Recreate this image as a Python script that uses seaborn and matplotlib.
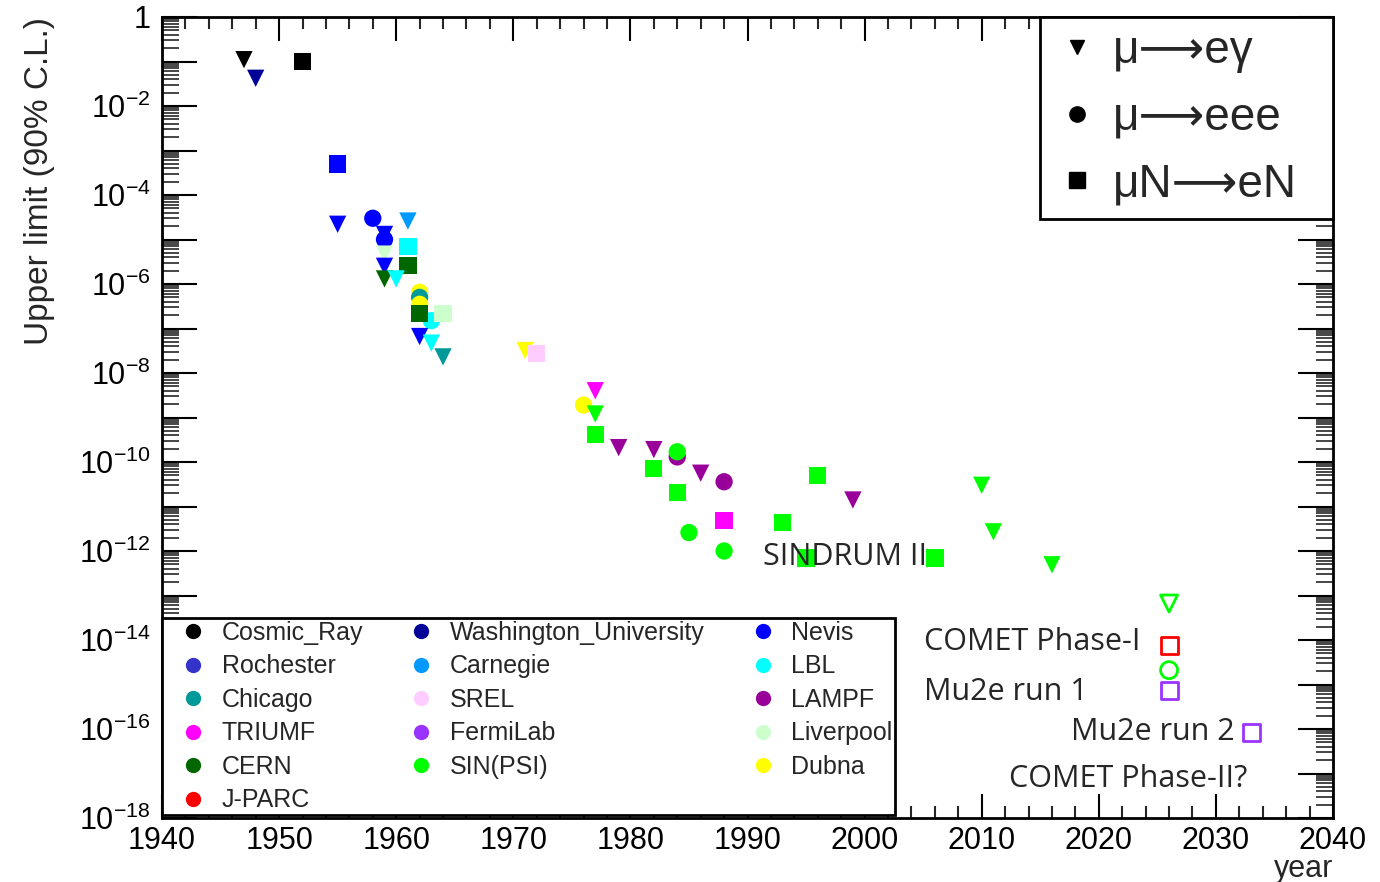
import numpy as np
import pandas as pd
import matplotlib
matplotlib.use("Agg")
import matplotlib.pyplot as plt
from matplotlib.lines import Line2D
from matplotlib.ticker import FixedLocator, LogLocator, MultipleLocator, NullFormatter
import seaborn as sns

# ---------------- data ----------------
labs = ["Cosmic_Ray", "Rochester", "Chicago", "TRIUMF", "CERN", "J-PARC",
        "Washington_University", "Carnegie", "SREL", "FermiLab", "SIN(PSI)",
        "Nevis", "LBL", "LAMPF", "Liverpool", "Dubna"]
lab_colors = ["#000000", "#3333cc", "#009999", "#ff00ff", "#006600", "#ff0000",
              "#000099", "#0099ff", "#ffccff", "#9933ff", "#00ff00",
              "#0000ff", "#00ffff", "#990099", "#ccffcc", "#ffff00"]

# measured upper limits (filled markers), drawn in this order
lab = ["Cosmic_Ray", "Washington_University", "Cosmic_Ray", "Nevis", "Nevis",
       "Nevis", "Carnegie", "Nevis", "Nevis", "LBL", "Liverpool", "Nevis",
       "CERN", "CERN", "LBL", "LBL", "Dubna", "Chicago", "Dubna", "CERN",
       "Liverpool", "Nevis", "LBL", "Chicago", "Dubna", "SREL", "TRIUMF",
       "Dubna", "SIN(PSI)", "SIN(PSI)", "LAMPF", "LAMPF", "LAMPF", "SIN(PSI)",
       "SIN(PSI)", "LAMPF", "LAMPF", "SIN(PSI)", "SIN(PSI)", "LAMPF", "TRIUMF",
       "SIN(PSI)", "SIN(PSI)", "SIN(PSI)", "SIN(PSI)", "SIN(PSI)", "SIN(PSI)",
       "SIN(PSI)", "SIN(PSI)"]
year = [1947, 1948, 1952, 1955, 1955,
        1958, 1961, 1959, 1959, 1961, 1959, 1959,
        1961, 1959, 1960, 1963, 1962, 1962, 1962, 1962,
        1964, 1962, 1963, 1964, 1971, 1972, 1977,
        1976, 1977, 1977, 1979, 1982, 1984, 1984,
        1982, 1986, 1988, 1984, 1996, 1999, 1988,
        1993, 1985, 1988, 1995, 2006, 2010,
        2011, 2016]
limit = [1.1e-1, 4.2e-2, 1.0e-1, 5.0e-4, 2.2e-5,
         3.0e-5, 2.6e-5, 1.3e-5, 1.0e-5, 7.0e-6, 4.7e-6, 2.5e-6,
         2.6e-6, 1.3e-6, 1.3e-6, 1.5e-7, 6.5e-7, 5.0e-7, 3.5e-7, 2.2e-7,
         2.2e-7, 6.6e-8, 4.7e-8, 2.3e-8, 3.2e-8, 2.7e-8, 4.0e-9,
         1.9e-9, 1.2e-9, 4.2e-10, 2.1e-10, 1.9e-10, 1.3e-10, 1.7e-10,
         7.2e-11, 5.6e-11, 3.6e-11, 2.1e-11, 4.9e-11, 1.4e-11, 4.9e-12,
         4.4e-12, 2.6e-12, 1.0e-12, 7.0e-13, 7.0e-13, 3.0e-11,
         2.7e-12, 4.9e-13]
process = ["meg", "meg", "conv", "conv", "meg",
           "eee", "meg", "meg", "eee", "conv", "meg", "meg",
           "conv", "meg", "meg", "eee", "eee", "eee", "eee", "conv",
           "conv", "meg", "meg", "meg", "meg", "conv", "meg",
           "eee", "meg", "conv", "meg", "meg", "eee", "eee",
           "conv", "meg", "eee", "conv", "conv", "meg", "conv",
           "conv", "eee", "eee", "conv", "conv", "meg",
           "meg", "meg"]

# projected sensitivities (open markers)
future_lab = ["SIN(PSI)", "J-PARC", "SIN(PSI)", "FermiLab", "FermiLab"]
future_year = [2026, 2026, 2026, 2026, 2033]
future_limit = [6.6e-14, 7.4e-15, 2.1e-15, 7.3e-16, 8.3e-17]
future_process = ["meg", "conv", "eee", "conv", "conv"]

process_markers = {"meg": "v", "eee": "o", "conv": "s"}
process_labels = ["μ⟶eγ", "μ⟶eee", "μN⟶eN"]

y_tick_labels = ["1", "", r"$\mathregular{10^{-2}}$", "", r"$\mathregular{10^{-4}}$", "",
                 r"$\mathregular{10^{-6}}$", "", r"$\mathregular{10^{-8}}$", "",
                 r"$\mathregular{10^{-10}}$", "", r"$\mathregular{10^{-12}}$", "",
                 r"$\mathregular{10^{-14}}$", "", r"$\mathregular{10^{-16}}$", "",
                 r"$\mathregular{10^{-18}}$"]

# ---------------- style ----------------
sns.set_theme(style="white")
plt.rcParams["font.family"] = ["Liberation Sans", "DejaVu Sans"]
plt.rcParams["mathtext.fontset"] = "custom"
plt.rcParams["mathtext.rm"] = "Liberation Sans"
plt.rcParams["axes.unicode_minus"] = True

palette = dict(zip(labs, lab_colors))

fig = plt.figure(figsize=(13.8, 8.82), dpi=100)
ax = fig.add_axes([162 / 1380, 1 - 818 / 882, 1171 / 1380, 801 / 882])
ax.set_yscale("log")

df = pd.DataFrame({"lab": lab, "year": year, "limit": limit, "process": process})
sns.scatterplot(data=df, x="year", y="limit", hue="lab", style="process",
                palette=palette, markers=process_markers, s=155,
                linewidth=0, legend=False, ax=ax, zorder=3)

dff = pd.DataFrame({"lab": future_lab, "year": future_year,
                    "limit": future_limit, "process": future_process})
sns.scatterplot(data=dff, x="year", y="limit", hue="lab", style="process",
                palette=palette, markers=process_markers, s=150,
                legend=False, ax=ax, zorder=3)
coll = ax.collections[-1]
fcs = coll.get_facecolors()
coll.set_edgecolors(fcs)
coll.set_facecolors("none")
coll.set_linewidth(2.0)

ax.set_xlim(1940, 2040)
ax.set_ylim(1e-18, 1)

# ticks
ax.xaxis.set_major_locator(MultipleLocator(10))
ax.xaxis.set_minor_locator(MultipleLocator(2))
ax.yaxis.set_major_locator(FixedLocator([10.0 ** (-k) for k in range(19)]))
ax.set_yticklabels(y_tick_labels)
ax.yaxis.set_minor_locator(LogLocator(base=10, subs=np.arange(2, 10), numticks=200))
ax.yaxis.set_minor_formatter(NullFormatter())
ax.tick_params(axis="x", which="major", direction="in", top=True, bottom=True,
               length=17, width=1.5, labelsize=22, pad=6, colors="black")
ax.tick_params(axis="x", which="minor", direction="in", top=True, bottom=True,
               length=8.5, width=1.5)
ax.tick_params(axis="y", which="major", direction="in", left=True, right=True,
               length=25, width=1.5, labelsize=22, pad=8, colors="black")
ax.tick_params(axis="y", which="minor", direction="in", left=True, right=True,
               length=12, width=1.2)
for sp in ax.spines.values():
    sp.set_color("black")
    sp.set_linewidth(2)

ax.set_xlabel("")
ax.set_ylabel("Upper limit (90% C.L.)", fontsize=24, loc="top")
ax.yaxis.set_label_coords(-0.091, 1.0)
fig.text(1333 / 1380, 5 / 882, "year", ha="right", va="baseline", fontsize=22)

# annotations
ann_font = ["Open Sans", "DejaVu Sans"]
ax.text(1991.3, 10 ** -12.13, "SINDRUM II", ha="left", va="center",
        fontsize=22, family=ann_font, zorder=4)
ax.text(2005.1, 10 ** -14.04, "COMET Phase-I", ha="left", va="center",
        fontsize=22, family=ann_font, zorder=4)
ax.text(2005.1, 10 ** -15.16, "Mu2e run 1", ha="left", va="center",
        fontsize=22, family=ann_font, zorder=4)
ax.text(2017.6, 10 ** -16.06, "Mu2e run 2", ha="left", va="center",
        fontsize=22, family=ann_font, zorder=4)
ax.text(2012.3, 10 ** -17.12, "COMET Phase-II?", ha="left", va="center",
        fontsize=22, family=ann_font, zorder=4)

# lab legend (bottom left)
lab_handles = [Line2D([], [], marker="o", linestyle="none", color=palette[l],
                      markersize=11, markeredgewidth=0) for l in labs]
leg1 = ax.legend(lab_handles, labs, loc="lower left",
                 bbox_to_anchor=(0, 0.004, 0.626, 0.251), mode="expand",
                 ncol=3, fontsize=18, frameon=True, fancybox=False,
                 framealpha=1, edgecolor="black", borderpad=0.1,
                 handlelength=2.3, handletextpad=0.0, labelspacing=0.38,
                 borderaxespad=0, columnspacing=1.0)
leg1.get_frame().set_linewidth(2)
leg1.set_zorder(5)
ax.add_artist(leg1)

# process legend (top right)
proc_handles = [Line2D([], [], marker=m, linestyle="none", color="black",
                       markersize=ms)
                for m, ms in zip(["v", "o", "s"], [10, 11, 11])]
leg2 = ax.legend(proc_handles, process_labels, loc="upper right",
                 bbox_to_anchor=(0.75, 0, 0.25, 1.0), mode="expand",
                 fontsize=33, frameon=True, fancybox=False, framealpha=1,
                 edgecolor="black", borderpad=0.27, handlelength=1.05,
                 handletextpad=0.27, labelspacing=0.49, borderaxespad=0)
leg2.get_frame().set_linewidth(2)
leg2.set_zorder(5)

fig.savefig("out.png", dpi=100, facecolor="white")
